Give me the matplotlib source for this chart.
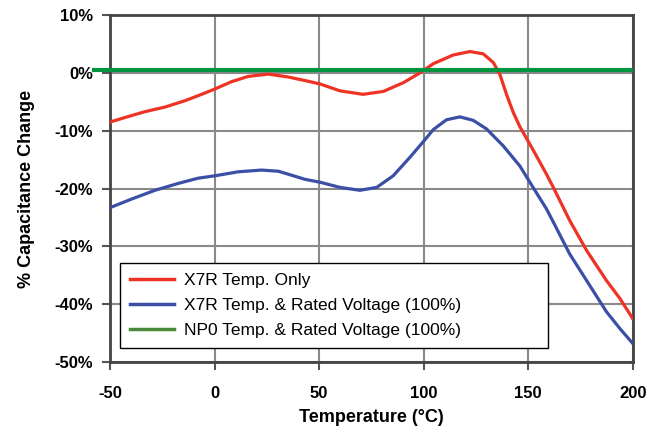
import matplotlib
matplotlib.use("Agg")
import matplotlib.pyplot as plt
from matplotlib.lines import Line2D

plt.rcParams['font.family'] = ['Liberation Sans', 'DejaVu Sans']

# X7R temperature only
x7r_t = [-50, -42.8, -33.3, -23.7, -14.1, -6.2, 0, 8.2, 16.1, 25.7, 35.2, 43, 50.4, 60, 71, 80.7,
         90.2, 98.2, 104.6, 114.1, 122.1, 128.5, 133.3, 136.4, 139.6, 142.8, 146, 152.3, 158.7,
         162, 169.8, 177.9, 187.4, 193.8, 200]
x7r_v = [-8.5, -7.7, -6.7, -5.9, -4.8, -3.7, -2.8, -1.5, -0.6, -0.2, -0.7, -1.3, -1.9, -3.1, -3.7, -3.2,
         -1.7, 0.0, 1.6, 3.1, 3.7, 3.3, 1.8, -0.2, -3.7, -6.8, -9.3, -13.3, -17.5,
         -19.8, -25.5, -30.7, -35.9, -39.0, -42.5]

# X7R temperature + rated voltage
x7rv_t = [-50, -39.6, -28.5, -17.3, -7.8, 0, 11.3, 22.5, 30.5, 36.9, 43.2, 50.4, 60, 69.5, 77.5,
          85.4, 93.4, 99.8, 104.6, 110.9, 117.3, 123.7, 130.1, 138, 146, 152.3, 158.7, 162,
          169.8, 177.9, 187.4, 193.8, 200]
x7rv_v = [-23.3, -21.8, -20.3, -19.1, -18.2, -17.8, -17.1, -16.8, -17.0, -17.7, -18.4, -18.9, -19.8, -20.3, -19.8,
          -17.8, -14.6, -11.9, -9.8, -8.1, -7.6, -8.2, -9.7, -12.6, -16.1, -19.8, -23.5, -25.8,
          -31.3, -35.9, -41.3, -44.2, -46.8]

# NP0 temperature + rated voltage
np0_t = [-58.5, 200]
np0_v = [0.5, 0.5]

labels = ["X7R Temp. Only", "X7R Temp. & Rated Voltage (100%)", "NP0 Temp. & Rated Voltage (100%)"]
xticks = [-50, 0, 50, 100, 150, 200]
yticks = [-50, -40, -30, -20, -10, 0, 10]

RED = "#ee3324"
BLUE = "#3b4fa6"
GREEN = "#00963f"
GREEN_LEG = "#4a8a3a"

fig = plt.figure(figsize=(6.64, 4.32), dpi=100)
ax = fig.add_axes([0.1657, 0.162, 0.7873, 0.803])

ax.plot(x7r_t, x7r_v, color=RED, lw=2.3, zorder=3, solid_joinstyle='round')
ax.plot(x7rv_t, x7rv_v, color=BLUE, lw=2.3, zorder=3, solid_joinstyle='round')
ax.plot(np0_t, np0_v, color=GREEN, lw=3.0, zorder=4, clip_on=False, solid_capstyle='butt')

ax.set_xlim(-50, 200)
ax.set_ylim(-50, 10)
ax.set_xticks(xticks)
ax.set_yticks(yticks)
ax.set_xticklabels([str(t) for t in xticks], fontweight='bold', fontsize=12)
ax.set_yticklabels(["%d%%" % t for t in yticks], fontweight='bold', fontsize=12)
ax.tick_params(axis='x', direction='out', length=6, width=1.5, color='#555555', pad=11)
ax.tick_params(axis='y', direction='out', length=6, width=1.5, color='#555555', pad=6)

ax.grid(True, color='#8a8a8a', lw=1.5)
ax.set_axisbelow(True)
for s in ax.spines.values():
    s.set_color('#444444')
    s.set_linewidth(2)

ax.set_xlabel("Temperature (°C)", fontweight='bold', fontsize=13, labelpad=6)
ax.set_ylabel("% Capacitance Change", fontweight='bold', fontsize=13, labelpad=14)

handles = [Line2D([], [], color=RED, lw=2.5),
           Line2D([], [], color=BLUE, lw=2.5),
           Line2D([], [], color=GREEN_LEG, lw=2.5)]
leg = ax.legend(handles, labels, loc='lower left', bbox_to_anchor=(0.019, 0.04, 0.818, 0.245),
                mode='expand', borderaxespad=0, fontsize=12.5, frameon=True, fancybox=False,
                handlelength=2.5, labelspacing=0.55, borderpad=0.6, handletextpad=0.6, framealpha=1)
leg.get_frame().set_edgecolor('black')
leg.get_frame().set_linewidth(1.0)

fig.savefig("out.png", dpi=100)
